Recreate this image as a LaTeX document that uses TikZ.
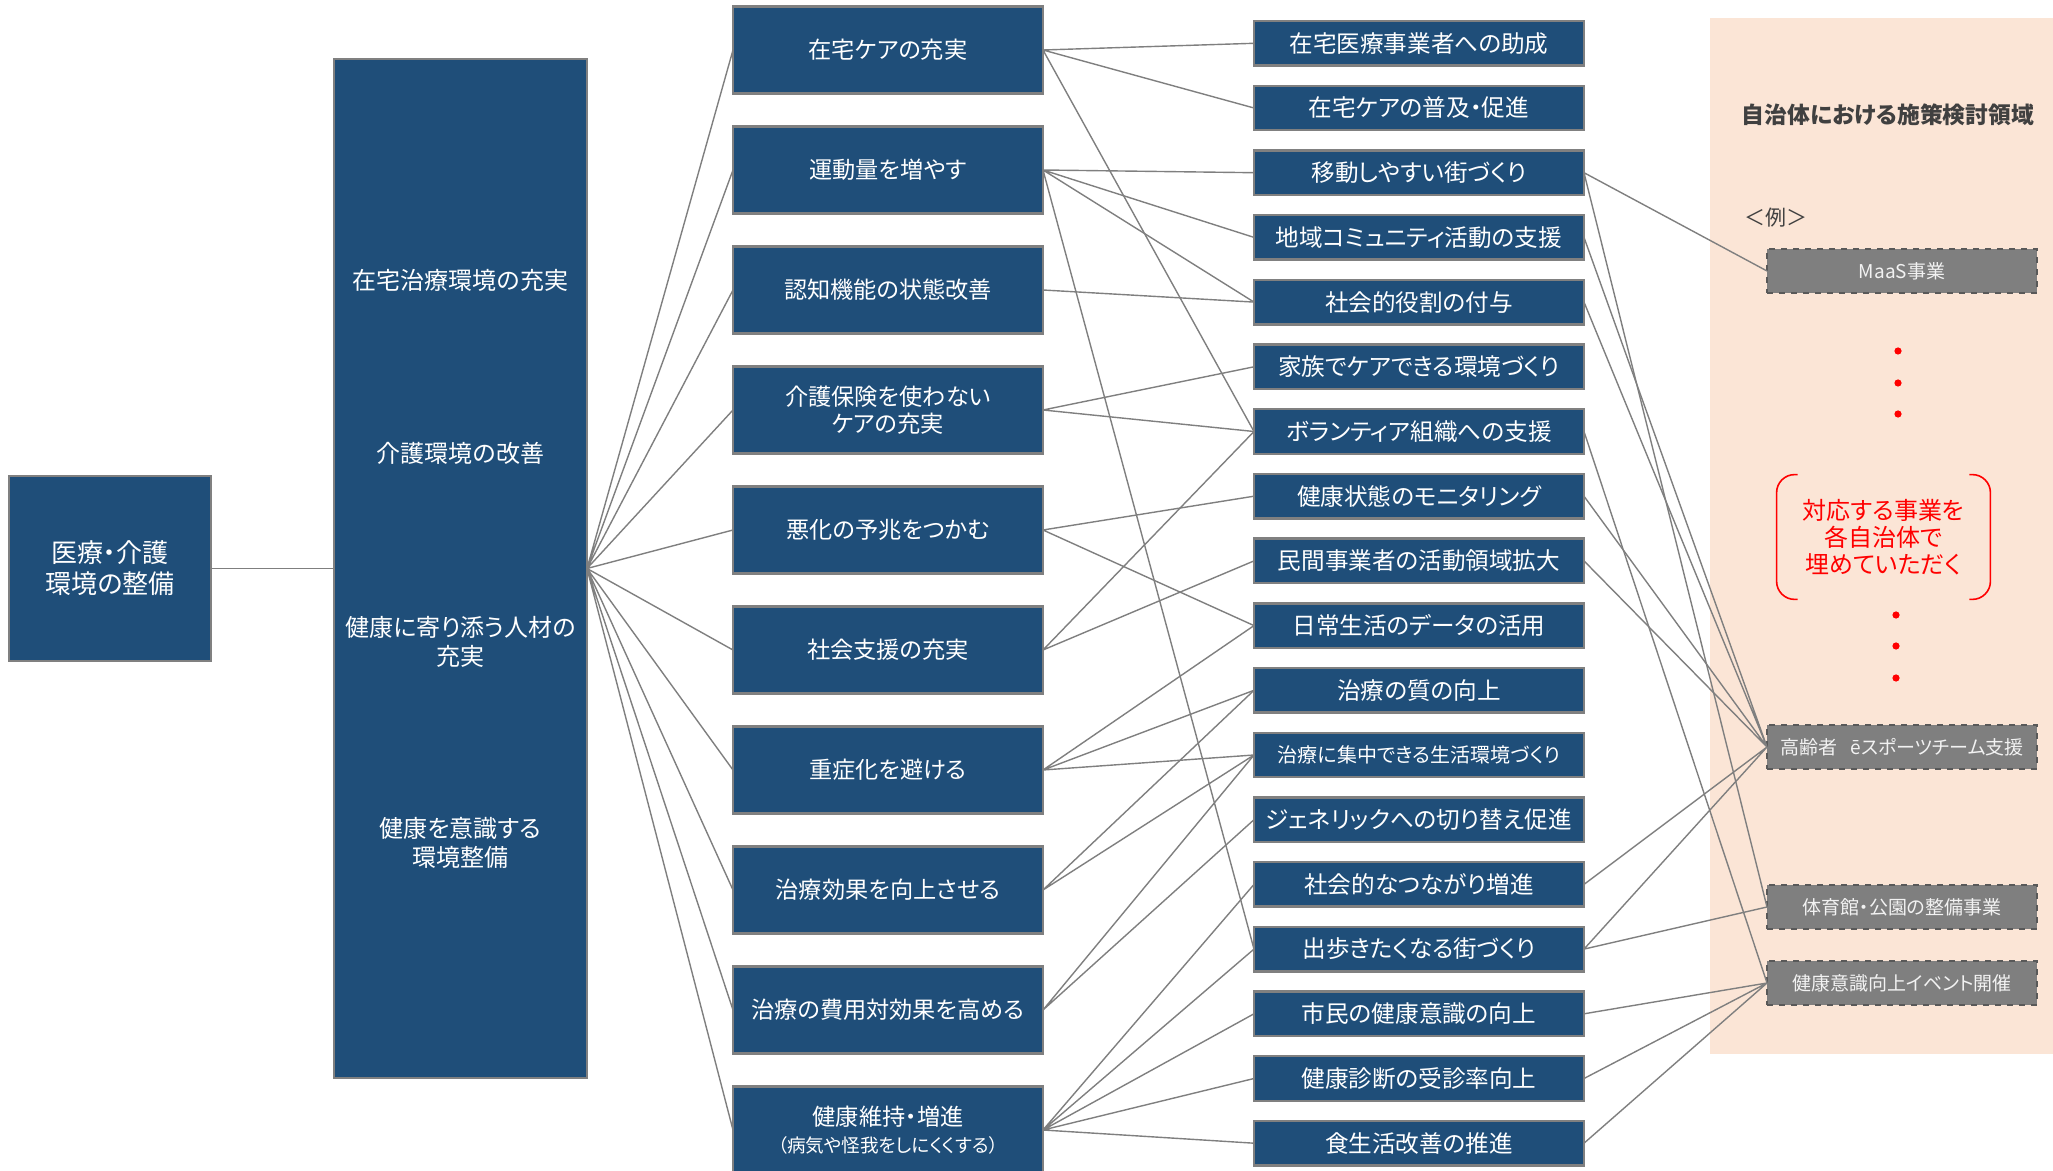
\documentclass[tikz,border=0pt]{standalone}
\usepackage{fontspec}
\setmainfont[RawFeature=+palt]{Noto Sans CJK JP}
\usepackage{tikz}
\usetikzlibrary{positioning}

\definecolor{navy}{HTML}{1F4E79}
\definecolor{edgegray}{HTML}{808080}
\definecolor{linkgray}{HTML}{7F7F7F}
\definecolor{peach}{HTML}{FBE5D6}
\definecolor{exgray}{HTML}{7F7F7F}
\definecolor{exborder}{HTML}{595959}
\definecolor{darktext}{HTML}{404040}
\definecolor{extext}{HTML}{F2F2F2}

\begin{document}
\begin{tikzpicture}[x=0.5pt, y=-0.5pt,
    % navy boxes of the tree
    nbox/.style={draw=edgegray, line width=1.2pt, fill=navy, text=white, inner sep=2pt, outer sep=0pt, align=center},
    rootbox/.style={nbox, minimum width=101pt, minimum height=92.5pt, font=\fontsize{13}{15.5}\selectfont},
    pillar/.style={nbox, minimum width=126.5pt, minimum height=509.5pt},
    plabel/.style={text=white, align=center, inner sep=1pt, font=\fontsize{12}{14.3}\selectfont},
    sbox/.style={nbox, minimum width=155pt, minimum height=43.5pt, font=\fontsize{11.6}{13.5}\selectfont},
    mbox/.style={nbox, minimum width=165pt, minimum height=22.25pt, font=\fontsize{11.8}{13}\selectfont},
    % example measures in the right panel
    ebox/.style={draw=exborder, dashed, line width=0.7pt, fill=exgray, text=extext, minimum width=135pt, minimum height=22pt, inner sep=2pt, outer sep=0pt, font=\fontsize{9.5}{11}\selectfont},
    link/.style={draw=linkgray, line width=0.7pt},
    node distance=16.5pt]

\useasboundingbox (0,0) rectangle (2053,1171);

% Right panel: municipality measures
\fill[peach] (1710,18) rectangle (2053,1054);
\node[text=darktext, font=\bfseries\fontsize{11.4}{13}\selectfont] (ttl) at (1888,115) {自治体における施策検討領域};
\node[text=darktext, font=\fontsize{10.5}{12}\selectfont] (eg) at (1776,218) {＜例＞};
\node[ebox] (e1) at (1902,271) {MaaS事業};
\node[ebox] (e2) at (1902,747) {高齢者\hspace{0.7em}ēスポーツチーム支援};
\node[ebox] (e3) at (1902,907) {体育館・公園の整備事業};
\node[ebox] (e4) at (1902,983) {健康意識向上イベント開催};
\node[text=red, align=center, minimum width=106.5pt, minimum height=62pt, inner sep=0pt, font=\fontsize{12}{13.5}\selectfont] (note) at (1883.5,537) {対応する事業を\\各自治体で\\埋めていただく};
\draw[red, line width=0.8pt, rounded corners=9pt] ([xshift=10.5pt]note.north west) -- (note.north west) -- (note.south west) -- ([xshift=10.5pt]note.south west);
\draw[red, line width=0.8pt, rounded corners=9pt] ([xshift=-10.5pt]note.north east) -- (note.north east) -- (note.south east) -- ([xshift=-10.5pt]note.south east);
\fill[red] (1898,351) circle (1.8pt) (1898,383) circle (1.8pt) (1898,414) circle (1.8pt);
\fill[red] (1896,615) circle (1.8pt) (1896,646) circle (1.8pt) (1896,678) circle (1.8pt);

% Root and pillar
\node[rootbox] (root) at (110,568.5) {医療・介護\\環境の整備};
\node[pillar] (pillar) at (460.5,568.5) {};
\node[plabel] (p1) at (460.5,280.5) {在宅治療環境の充実};
\node[plabel] (p2) at (460.5,453.5) {介護環境の改善};
\node[plabel] (p3) at (460.5,642) {健康に寄り添う人材の\\充実};
\node[plabel] (p4) at (460.5,843) {健康を意識する\\環境整備};

% Strategies
\node[sbox] (s1) at (888,50) {在宅ケアの充実};
\node[sbox, below=of s1] (s2) {運動量を増やす};
\node[sbox, below=of s2] (s3) {認知機能の状態改善};
\node[sbox, below=of s3] (s4) {介護保険を使わない\\ケアの充実};
\node[sbox, below=of s4] (s5) {悪化の予兆をつかむ};
\node[sbox, below=of s5] (s6) {社会支援の充実};
\node[sbox, below=of s6] (s7) {重症化を避ける};
\node[sbox, below=of s7] (s8) {治療効果を向上させる};
\node[sbox, below=of s8] (s9) {治療の費用対効果を高める};
\node[sbox, below=of s9] (s10) {健康維持・増進\\{\fontsize{9.3}{11}\selectfont（病気や怪我をしにくくする）}};

% Measures
\node[mbox] (m1) at (1419,43.3) {在宅医療事業者への助成};
\node[mbox, below=10.1pt of m1] (m2) {在宅ケアの普及・促進};
\node[mbox, below=10.1pt of m2] (m3) {移動しやすい街づくり};
\node[mbox, below=10.1pt of m3] (m4) {地域コミュニティ活動の支援};
\node[mbox, below=10.1pt of m4] (m5) {社会的役割の付与};
\node[mbox, below=10.1pt of m5] (m6) {家族でケアできる環境づくり};
\node[mbox, below=10.1pt of m6] (m7) {ボランティア組織への支援};
\node[mbox, below=10.1pt of m7] (m8) {健康状態のモニタリング};
\node[mbox, below=10.1pt of m8] (m9) {民間事業者の活動領域拡大};
\node[mbox, below=10.1pt of m9] (m10) {日常生活のデータの活用};
\node[mbox, below=10.1pt of m10] (m11) {治療の質の向上};
\node[mbox, below=10.1pt of m11, font=\fontsize{10}{11}\selectfont] (m12) {治療に集中できる生活環境づくり};
\node[mbox, below=10.1pt of m12] (m13) {ジェネリックへの切り替え促進};
\node[mbox, below=10.1pt of m13] (m14) {社会的なつながり増進};
\node[mbox, below=10.1pt of m14] (m15) {出歩きたくなる街づくり};
\node[mbox, below=10.1pt of m15] (m16) {市民の健康意識の向上};
\node[mbox, below=10.1pt of m16] (m17) {健康診断の受診率向上};
\node[mbox, below=10.1pt of m17] (m18) {食生活改善の推進};

% Root -> pillar -> strategies
\draw[link] (root.east) -- (pillar.west);
\draw[link] (pillar.east) -- (s1.west) (pillar.east) -- (s2.west) (pillar.east) -- (s3.west)
  (pillar.east) -- (s4.west) (pillar.east) -- (s5.west) (pillar.east) -- (s6.west)
  (pillar.east) -- (s7.west) (pillar.east) -- (s8.west) (pillar.east) -- (s9.west)
  (pillar.east) -- (s10.west);

% Strategies -> measures
\draw[link] (s1.east) -- (m1.west) (s1.east) -- (m2.west) (s1.east) -- (m7.west);
\draw[link] (s2.east) -- (m3.west) (s2.east) -- (m4.west) (s2.east) -- (m5.west) (s2.east) -- (m15.west);
\draw[link] (s3.east) -- (m5.west);
\draw[link] (s4.east) -- (m6.west) (s4.east) -- (m7.west);
\draw[link] (s5.east) -- (m8.west) (s5.east) -- (m10.west);
\draw[link] (s6.east) -- (m7.west) (s6.east) -- (m9.west);
\draw[link] (s7.east) -- (m10.west) (s7.east) -- (m11.west) (s7.east) -- (m12.west);
\draw[link] (s8.east) -- (m11.west) (s8.east) -- (m12.west);
\draw[link] (s9.east) -- (m12.west) (s9.east) -- (m13.west);
\draw[link] (s10.east) -- (m14.west) (s10.east) -- (m15.west) (s10.east) -- (m16.west)
  (s10.east) -- (m17.west) (s10.east) -- (m18.west);

% Measures -> municipality examples
\draw[link] (m3.east) -- (e1.west) (m3.east) -- (e3.west);
\draw[link] (m4.east) -- (e2.west) (m5.east) -- (e2.west) (m8.east) -- (e2.west) (m9.east) -- (e2.west);
\draw[link] (m7.east) -- (e4.west);
\draw[link] (m14.east) -- (e2.west) (m15.east) -- (e2.west) (m15.east) -- (e3.west);
\draw[link] (m16.east) -- (e4.west) (m17.east) -- (e4.west) (m18.east) -- (e4.west);

\end{tikzpicture}
\end{document}
